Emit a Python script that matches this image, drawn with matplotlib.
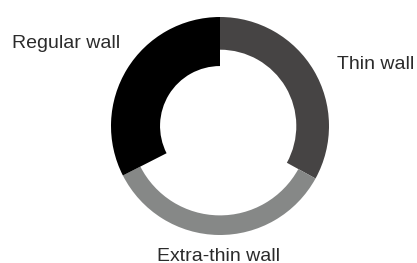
import matplotlib
matplotlib.use('Agg')
import matplotlib.pyplot as plt

# Share of each wall type (%)
labels = ['Thin wall', 'Extra-thin wall', 'Regular wall']
shares = [33, 34.5, 32.5]
colors = ['#464444', '#868887', '#000000']
ring_widths = [0.30, 0.18, 0.45]

fig = plt.figure(figsize=(4.17, 2.63), dpi=100)
ax = fig.add_axes([111 / 417, 28 / 263, 218 / 417, 218 / 263])

wedges, _ = ax.pie(shares, colors=colors, startangle=90, counterclock=False,
                   radius=1.0, wedgeprops=dict(width=0.3, linewidth=0))
for w, rw in zip(wedges, ring_widths):
    w.set_width(rw)
ax.set_xlim(-1, 1)
ax.set_ylim(-1, 1)
ax.set_aspect('equal')
ax.axis('off')

# Labels around the ring
font = dict(family='Liberation Sans', fontsize=14, color='#2b2b2b')
fig.text(12 / 417, 1 - 48 / 263, labels[2], ha='left', va='baseline', **font)
fig.text(337 / 417, 1 - 69 / 263, labels[0], ha='left', va='baseline', **font)
fig.text(219 / 417, 1 - 261 / 263, labels[1], ha='center', va='baseline', **font)

fig.savefig('out.png', dpi=100)
